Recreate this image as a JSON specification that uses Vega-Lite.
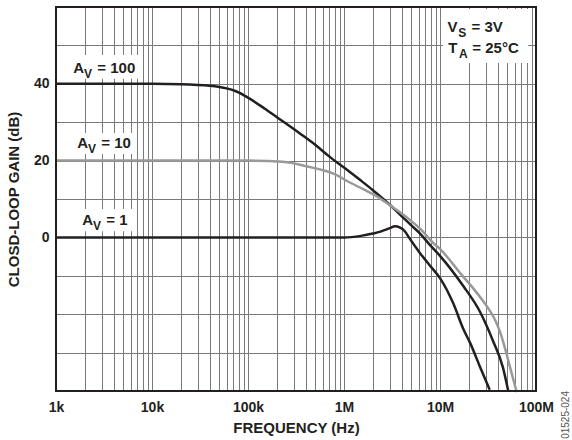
{
  "$schema": "https://vega.github.io/schema/vega-lite/v6.json",
  "width": 480,
  "height": 384,
  "autosize": {"type": "none"},
  "padding": {"left": 56, "top": 7, "right": 36, "bottom": 49},
  "background": "white",
  "config": {
    "view": {"stroke": null},
    "font": "Liberation Sans",
    "axis": {
      "ticks": false,
      "domain": false,
      "grid": true,
      "gridColor": "#7a7a7a",
      "gridWidth": 1,
      "gridOpacity": 1,
      "labelFont": "Liberation Sans",
      "labelFontSize": 14,
      "labelFontWeight": "bold",
      "labelColor": "#231f20",
      "labelOverlap": false,
      "labelFlush": false,
      "titleFont": "Liberation Sans",
      "titleFontSize": 15,
      "titleFontWeight": "bold",
      "titleColor": "#231f20"
    }
  },
  "title": {
    "text": "01525-024",
    "orient": "right",
    "anchor": "end",
    "frame": "group",
    "angle": -90,
    "align": "right",
    "baseline": "middle",
    "offset": 2,
    "font": "Liberation Sans",
    "fontSize": 10,
    "fontWeight": "normal",
    "color": "#555555"
  },
  "datasets": {
    "curves": [
      {"curve": "Av100", "f": 1000, "g": 40},
      {"curve": "Av100", "f": 10000, "g": 40},
      {"curve": "Av100", "f": 20000, "g": 39.9},
      {"curve": "Av100", "f": 40000, "g": 39.5},
      {"curve": "Av100", "f": 60000, "g": 38.8},
      {"curve": "Av100", "f": 76000, "g": 38.0},
      {"curve": "Av100", "f": 100000, "g": 36.4},
      {"curve": "Av100", "f": 150000, "g": 33.5},
      {"curve": "Av100", "f": 200000, "g": 31.3},
      {"curve": "Av100", "f": 350000, "g": 27.0},
      {"curve": "Av100", "f": 520000, "g": 23.8},
      {"curve": "Av100", "f": 700000, "g": 21.1},
      {"curve": "Av100", "f": 1000000, "g": 18.2},
      {"curve": "Av100", "f": 1500000, "g": 14.8},
      {"curve": "Av100", "f": 2000000, "g": 12.3},
      {"curve": "Av100", "f": 3000000, "g": 8.5},
      {"curve": "Av100", "f": 4000000, "g": 5.5},
      {"curve": "Av100", "f": 5000000, "g": 3.2},
      {"curve": "Av100", "f": 6200000, "g": 1.0},
      {"curve": "Av100", "f": 7800000, "g": -1.9},
      {"curve": "Av100", "f": 10000000, "g": -4.8},
      {"curve": "Av100", "f": 17400000, "g": -12.6},
      {"curve": "Av100", "f": 26000000, "g": -19.3},
      {"curve": "Av100", "f": 35600000, "g": -26.9},
      {"curve": "Av100", "f": 45300000, "g": -33.9},
      {"curve": "Av100", "f": 51400000, "g": -40.0},
      {"curve": "Av10", "f": 1000, "g": 20},
      {"curve": "Av10", "f": 100000, "g": 20},
      {"curve": "Av10", "f": 230000, "g": 19.7},
      {"curve": "Av10", "f": 445000, "g": 18.3},
      {"curve": "Av10", "f": 775000, "g": 16.6},
      {"curve": "Av10", "f": 1150000, "g": 14.3},
      {"curve": "Av10", "f": 1600000, "g": 12.5},
      {"curve": "Av10", "f": 2200000, "g": 10.7},
      {"curve": "Av10", "f": 3000000, "g": 8.4},
      {"curve": "Av10", "f": 3800000, "g": 6.6},
      {"curve": "Av10", "f": 5000000, "g": 4.3},
      {"curve": "Av10", "f": 6200000, "g": 2.3},
      {"curve": "Av10", "f": 8450000, "g": -1.4},
      {"curve": "Av10", "f": 10000000, "g": -3.0},
      {"curve": "Av10", "f": 13600000, "g": -6.9},
      {"curve": "Av10", "f": 17000000, "g": -9.9},
      {"curve": "Av10", "f": 22100000, "g": -13.2},
      {"curve": "Av10", "f": 27000000, "g": -16.0},
      {"curve": "Av10", "f": 33200000, "g": -19.2},
      {"curve": "Av10", "f": 37500000, "g": -21.5},
      {"curve": "Av10", "f": 42200000, "g": -24.6},
      {"curve": "Av10", "f": 46500000, "g": -28.0},
      {"curve": "Av10", "f": 51100000, "g": -31.8},
      {"curve": "Av10", "f": 57000000, "g": -36.3},
      {"curve": "Av10", "f": 63000000, "g": -40.3},
      {"curve": "Av1", "f": 1000, "g": 0},
      {"curve": "Av1", "f": 1000000, "g": 0},
      {"curve": "Av1", "f": 1500000, "g": 0.4},
      {"curve": "Av1", "f": 2000000, "g": 1.0},
      {"curve": "Av1", "f": 2400000, "g": 1.5},
      {"curve": "Av1", "f": 3000000, "g": 2.4},
      {"curve": "Av1", "f": 3400000, "g": 2.9},
      {"curve": "Av1", "f": 3800000, "g": 2.6},
      {"curve": "Av1", "f": 4300000, "g": 1.6},
      {"curve": "Av1", "f": 4800000, "g": -0.2},
      {"curve": "Av1", "f": 6200000, "g": -4.1},
      {"curve": "Av1", "f": 8000000, "g": -7.6},
      {"curve": "Av1", "f": 10000000, "g": -10.6},
      {"curve": "Av1", "f": 13700000, "g": -17.1},
      {"curve": "Av1", "f": 17600000, "g": -24.0},
      {"curve": "Av1", "f": 20700000, "g": -27.6},
      {"curve": "Av1", "f": 26000000, "g": -33.6},
      {"curve": "Av1", "f": 33000000, "g": -39.7}
    ],
    "boxes": [
      {"f": 1334, "f2": 7870, "g": 47.5, "g2": 41.3},
      {"f": 1468, "f2": 6970, "g": 27.2, "g2": 21.7},
      {"f": 1616, "f2": 6340, "g": 7.4, "g2": 1.6},
      {"f": 10700000, "f2": 83000000, "g": 59.5, "g2": 45.4}
    ],
    "notes": [
      {"f": 1514, "g": 42.8, "main": "A", "sub": "V", "rest": "= 100"},
      {"f": 1667, "g": 23.3, "main": "A", "sub": "V", "rest": "= 10"},
      {"f": 1879, "g": 3.3, "main": "A", "sub": "V", "rest": "= 1"},
      {"f": 12000000, "g": 53.4, "main": "V", "sub": "S", "rest": "= 3V"},
      {"f": 12200000, "g": 48.0, "main": "T", "sub": "A", "rest": "= 25°C"}
    ],
    "frame": [
      {"f": 1000, "f2": 100000000, "g": -40, "g2": 60}
    ]
  },
  "encoding": {
    "x": {
      "field": "f",
      "type": "quantitative",
      "scale": {"type": "log", "domain": [1000, 100000000], "nice": false},
      "axis": {
        "title": "FREQUENCY (Hz)",
        "values": [1000, 2000, 3000, 4000, 5000, 6000, 7000, 8000, 9000,
                   10000, 20000, 30000, 40000, 50000, 60000, 70000, 80000, 90000,
                   100000, 200000, 300000, 400000, 500000, 600000, 700000, 800000, 900000,
                   1000000, 2000000, 3000000, 4000000, 5000000, 6000000, 7000000, 8000000, 9000000,
                   10000000, 20000000, 30000000, 40000000, 50000000, 60000000, 70000000, 80000000, 90000000,
                   100000000],
        "labelExpr": "indexof([1000, 10000, 100000, 1000000, 10000000, 100000000], datum.value) >= 0 ? (datum.value >= 1000000 ? (datum.value / 1000000) + 'M' : (datum.value / 1000) + 'k') : ''",
        "labelPadding": 9,
        "titlePadding": 6
      }
    },
    "y": {
      "field": "g",
      "type": "quantitative",
      "scale": {"domain": [-40, 60], "nice": false, "zero": false},
      "axis": {
        "title": "CLOSD-LOOP GAIN (dB)",
        "values": [-40, -30, -20, -10, 0, 10, 20, 30, 40, 50, 60],
        "labelExpr": "datum.value == 0 || datum.value == 20 || datum.value == 40 ? datum.label : ''",
        "labelPadding": 7,
        "titlePadding": 12
      }
    }
  },
  "layer": [
    {
      "data": {"name": "boxes"},
      "mark": {"type": "rect", "fill": "white"},
      "encoding": {
        "x2": {"field": "f2"},
        "y2": {"field": "g2"}
      }
    },
    {
      "data": {"name": "curves"},
      "mark": {"type": "line", "interpolate": "monotone", "strokeWidth": 2.5, "strokeCap": "butt"},
      "encoding": {
        "color": {
          "field": "curve",
          "type": "nominal",
          "scale": {"domain": ["Av1", "Av10", "Av100"], "range": ["#231f20", "#999999", "#231f20"]},
          "legend": null
        }
      }
    },
    {
      "data": {"name": "frame"},
      "mark": {"type": "rect", "fillOpacity": 0, "stroke": "#231f20", "strokeWidth": 2},
      "encoding": {
        "x2": {"field": "f2"},
        "y2": {"field": "g2"}
      }
    },
    {
      "data": {"name": "notes"},
      "mark": {"type": "text", "align": "left", "baseline": "alphabetic", "font": "Liberation Sans", "fontSize": 15, "fontWeight": "bold", "color": "#231f20"},
      "encoding": {"text": {"field": "main"}}
    },
    {
      "data": {"name": "notes"},
      "mark": {"type": "text", "align": "left", "baseline": "alphabetic", "dx": 10.7, "dy": 5, "font": "Liberation Sans", "fontSize": 12, "fontWeight": "bold", "color": "#231f20"},
      "encoding": {"text": {"field": "sub"}}
    },
    {
      "data": {"name": "notes"},
      "mark": {"type": "text", "align": "left", "baseline": "alphabetic", "dx": 24, "font": "Liberation Sans", "fontSize": 15, "fontWeight": "bold", "color": "#231f20"},
      "encoding": {"text": {"field": "rest"}}
    }
  ]
}
